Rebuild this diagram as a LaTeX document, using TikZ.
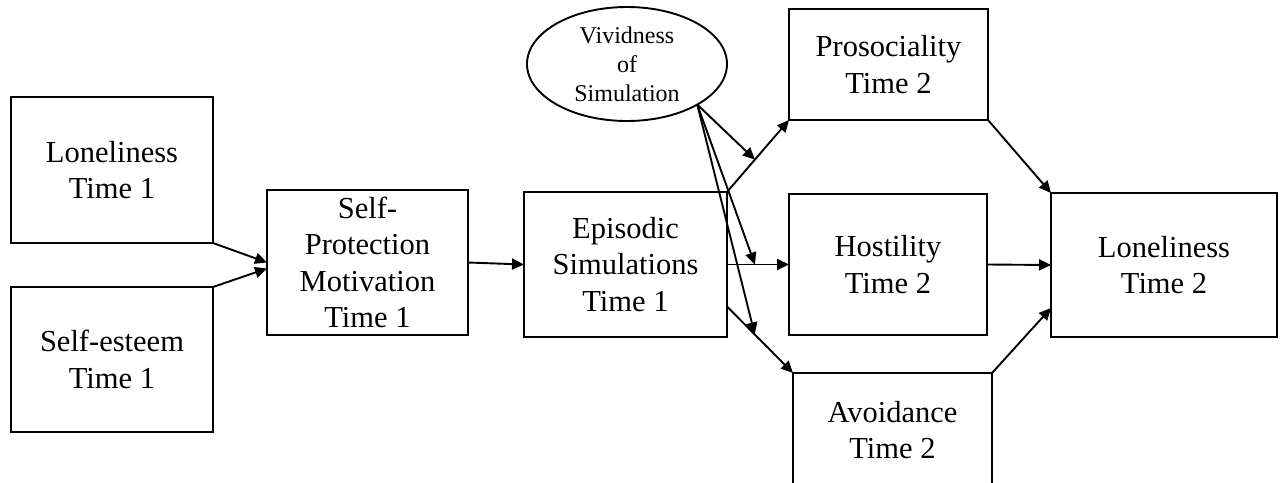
\documentclass[tikz,border=0pt]{standalone}
\usepackage{fontspec}
\setmainfont{Liberation Serif}
\usetikzlibrary{arrows.meta,calc,shapes.geometric}
\begin{document}
\begin{tikzpicture}[x=1pt,y=-1pt,
  box/.style={draw,line width=1.9pt,rectangle,inner sep=0pt,outer sep=0pt,align=center,
    font=\fontsize{30.5pt}{36.5pt}\selectfont},
  oval/.style={draw,line width=1.9pt,ellipse,inner sep=0pt,outer sep=0pt,align=center,
    minimum width=200pt,minimum height=114pt,font=\fontsize{24pt}{29pt}\selectfont},
  arr/.style={line width=1.9pt,-{Triangle[length=12pt,width=11pt]}}]
\useasboundingbox (0,0) rectangle (1284,482);
\clip (0,0) rectangle (1284,482);
\node[box,minimum width=202pt,minimum height=146pt] (lon1) at (112,170) {Loneliness\\Time 1};
\node[box,minimum width=202pt,minimum height=145pt] (se) at (112,359.5) {Self-esteem\\Time 1};
\node[box,minimum width=201pt,minimum height=145pt] (sp) at (367.5,262.5) {Self-\\Protection\\Motivation\\Time 1};
\node[box,minimum width=203pt,minimum height=145pt] (ep) at (625.5,264.5) {Episodic\\Simulations\\Time 1};
\node[box,minimum width=199pt,minimum height=111pt] (pro) at (888.5,64.5) {Prosociality\\Time 2};
\node[box,minimum width=198pt,minimum height=141pt] (hos) at (888,264.5) {Hostility\\Time 2};
\node[box,minimum width=199pt,minimum height=114pt] (avo) at (892.5,430) {Avoidance\\Time 2};
\node[box,minimum width=226pt,minimum height=144pt] (lon2) at (1164,265) {Loneliness\\Time 2};
\node[oval] (viv) at (627,64) {Vividness\\of\\Simulation};

\coordinate (spin) at ([yshift=-6pt]sp.west);
\coordinate (epav) at ([yshift=-42pt]ep.east);
\coordinate (lonav) at ([yshift=-43pt]lon2.west);
\coordinate (vivo) at (viv.-30);

\draw[arr] (lon1.south east) -- (sp.west);
\draw[arr] (se.north east) -- (spin);
\draw[arr] (sp.east) -- (ep.west);
\draw[arr] (ep.north east) -- (pro.south west);
\draw[arr] (ep.east) -- (hos.west);
\draw[arr] (epav) -- (avo.north west);
\draw[arr] (vivo) -- ($(ep.north east)!0.45!(pro.south west)$);
\draw[arr] (vivo) -- ($(ep.east)!0.45!(hos.west)$);
\draw[arr] (vivo) -- ($(epav)!0.42!(avo.north west)$);
\draw[arr] (pro.south east) -- (lon2.north west);
\draw[arr] (hos.east) -- (lon2.west);
\draw[arr] (avo.north east) -- (lonav);
\end{tikzpicture}
\end{document}
